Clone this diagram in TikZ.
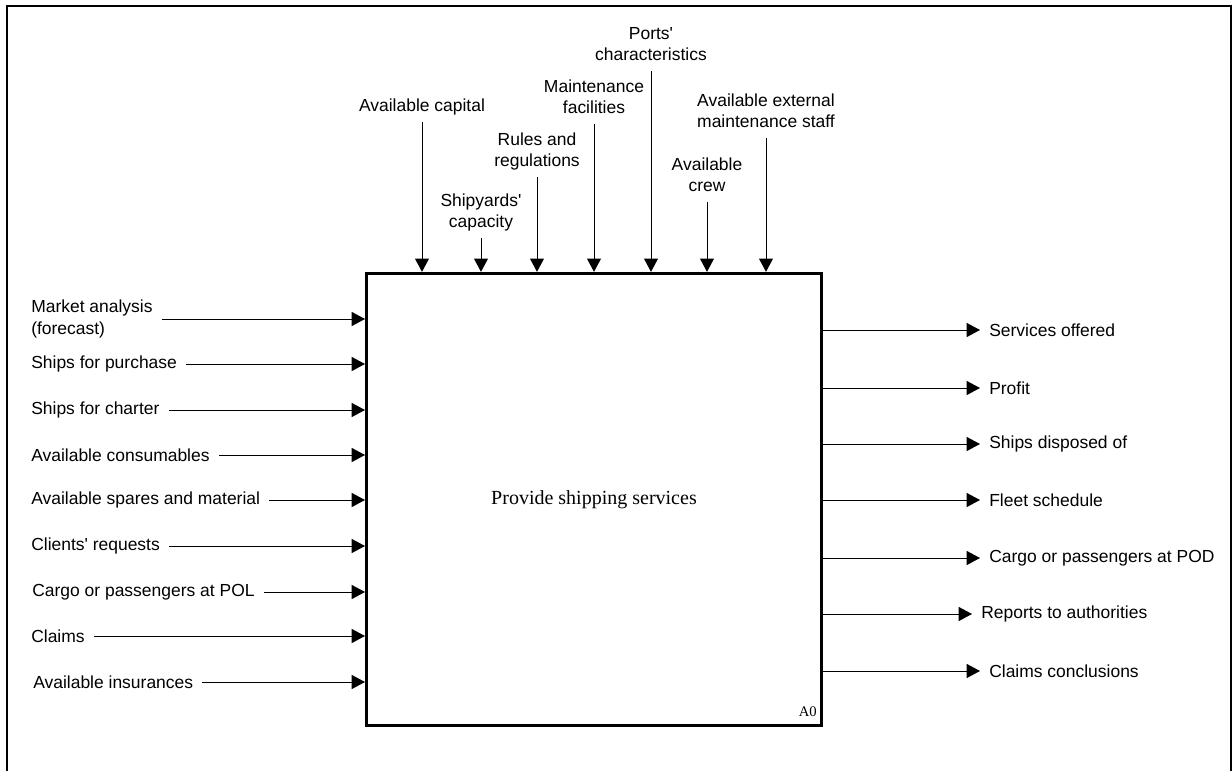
\documentclass[tikz,border=0pt]{standalone}
\usepackage{fontspec}
\setmainfont{Liberation Serif}
\setsansfont{Liberation Sans}
\usetikzlibrary{arrows.meta}
\usetikzlibrary{positioning}
\tikzset{func/.style={rectangle,draw=black,line width=2.5pt,inner sep=0pt,
minimum width=341pt,minimum height=339pt,font=\fontsize{15}{18}\selectfont},
lbl/.style={font=\sffamily\fontsize{13.1}{16}\selectfont,inner xsep=6.75pt,inner ysep=1pt},
ctrl/.style={lbl,align=center,anchor=south,inner ysep=2.7pt},
inp/.style={lbl,align=left,anchor=west},
outp/.style={lbl,anchor=west},
nr/.style={anchor=south east,font=\fontsize{11}{13}\selectfont,inner xsep=4.5pt,inner ysep=7.5pt},
sheet/.style={line width=1.9pt},
flow/.style={->,line width=0.75pt},
>={Triangle[length=10pt,width=10.5pt]}}
\newcommand{\apos}{\textquotesingle}

\begin{document}
\begin{tikzpicture}[x=0.75pt,y=-0.75pt]
  \useasboundingbox (0,0) rectangle (1232,771);
  \draw [sheet] (7,790) -- (7,6) -- (1231,6) -- (1231,790);

  \node (box) [func] at (594,499.5) {Provide shipping services};
  \node (a0) [nr] at (box.south east) {A0};

  \node (capital) [ctrl] at (422,122) {Available capital\strut};
  \node (shipyards) [ctrl] at (481,238) {Shipyards\apos\\capacity\strut};
  \node (rules) [ctrl] at (537,177) {Rules and\\regulations\strut};
  \node (facilities) [ctrl] at (594,124) {Maintenance\\facilities\strut};
  \node (ports) [ctrl] at (651,71) {Ports\apos\\characteristics\strut};
  \node (crew) [ctrl] at (707,202) {Available\\crew\strut};
  \node (extstaff) [ctrl] at (766,138) {Available external\\maintenance staff\strut};

  \node (market) [inp] at (22,319) {Market analysis\\(forecast)};
  \node (purchase) [inp] at (22,364) {Ships for purchase};
  \node (charter) [inp] at (22,410) {Ships for charter};
  \node (consum) [inp] at (22,455) {Available consumables};
  \node (spares) [inp] at (22,500) {Available spares and material};
  \node (clients) [inp] at (22,546) {Clients\apos{} requests};
  \node (polcargo) [inp] at (23,592) {Cargo or passengers at POL};
  \node (claims) [inp] at (22,636) {Claims};
  \node (insur) [inp] at (24,682) {Available insurances};

  \node (services) [outp] at (980,330) {Services offered};
  \node (profit) [outp] at (980,388) {Profit};
  \node (disposed) [outp] at (980,444) {Ships disposed of};
  \node (fleet) [outp] at (980,500) {Fleet schedule};
  \node (podcargo) [outp] at (980,558) {Cargo or passengers at POD};
  \node (reports) [outp] at (972,614) {Reports to authorities};
  \node (conclusions) [outp] at (980,671) {Claims conclusions};

  \draw [flow] (capital.south) -- (capital.south |- box.north);
  \draw [flow] (shipyards.south) -- (shipyards.south |- box.north);
  \draw [flow] (rules.south) -- (rules.south |- box.north);
  \draw [flow] (facilities.south) -- (facilities.south |- box.north);
  \draw [flow] (ports.south) -- (ports.south |- box.north);
  \draw [flow] (crew.south) -- (crew.south |- box.north);
  \draw [flow] (extstaff.south) -- (extstaff.south |- box.north);

  \draw [flow] (market) -- (market -| box.west);
  \draw [flow] (purchase) -- (purchase -| box.west);
  \draw [flow] (charter) -- (charter -| box.west);
  \draw [flow] (consum) -- (consum -| box.west);
  \draw [flow] (spares) -- (spares -| box.west);
  \draw [flow] (clients) -- (clients -| box.west);
  \draw [flow] (polcargo) -- (polcargo -| box.west);
  \draw [flow] (claims) -- (claims -| box.west);
  \draw [flow] (insur) -- (insur -| box.west);

  \draw [flow] (box.east |- services) -- (services);
  \draw [flow] (box.east |- profit) -- (profit);
  \draw [flow] (box.east |- disposed) -- (disposed);
  \draw [flow] (box.east |- fleet) -- (fleet);
  \draw [flow] (box.east |- podcargo) -- (podcargo);
  \draw [flow] (box.east |- reports) -- (reports);
  \draw [flow] (box.east |- conclusions) -- (conclusions);
\end{tikzpicture}
\end{document}
